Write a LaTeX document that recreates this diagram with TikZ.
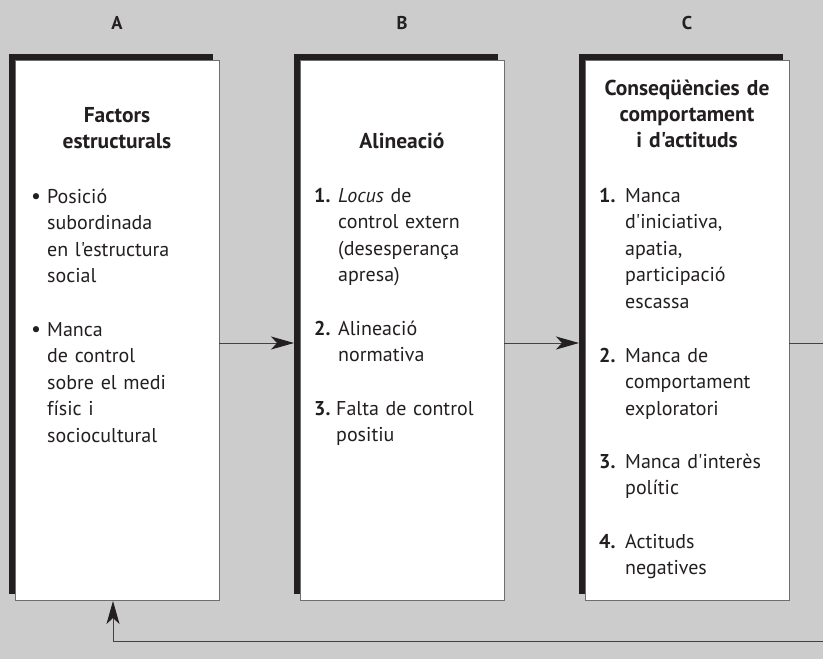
\documentclass[tikz,border=0pt]{standalone}
\usepackage{fontspec}
\setmainfont{PT Sans}[Ligatures=TeXOff]
\usetikzlibrary{arrows.meta,shadows}
\definecolor{bg}{HTML}{CCCCCC}
\definecolor{ink}{HTML}{231F20}
\definecolor{edge}{HTML}{6E6E6E}
\begin{document}
\begin{tikzpicture}[x=1pt,y=-1pt,
  panel/.style={fill=white, draw=edge, line width=0.8pt, inner sep=0pt,
    minimum width=204pt, minimum height=540pt, anchor=north west,
    general shadow={fill=ink, draw=none, shadow xshift=-6pt, shadow yshift=6pt}},
  txt/.style={text=ink, inner sep=0pt, font=\fontsize{20}{26.5}\selectfont},
  title/.style={txt, font=\fontsize{21.5}{26}\selectfont\bfseries, align=center, text width=200pt, anchor=base},
  item/.style={txt, align=left, text width=175pt, anchor=base west},
  num/.style={txt, font=\fontsize{20}{26.5}\selectfont\bfseries, anchor=base west},
  bul/.style={txt, font=\fontsize{22}{26.5}\selectfont, anchor=base},
  head/.style={txt, font=\fontsize{18.5}{20}\selectfont\bfseries, anchor=base},
  conn/.style={draw=ink!85, line width=0.9pt},
  tip/.style={-{Stealth[length=23pt,width=13pt,inset=6pt,color=ink]}}
]
\useasboundingbox[fill=bg] (0,0) rectangle (823,659);
\clip (0,0) rectangle (823,659);

% column heads
\node[head] (hA) at (117,29) {A};
\node[head] (hB) at (402,29) {B};
\node[head] (hC) at (687,29) {C};

% panels
\node[panel] (A) at (15,60) {};
\node[panel] (B) at (300,60) {};
\node[panel] (C) at (585,60) {};

% Box A
\node[title] (At) at (117,122) {Factors\\estructurals};
\node[bul] (Ab1) at (36,203) {•};
\node[item] (A1) at (47,203) {Posició\\subordinada\\en l'estructura\\social};
\node[bul] (Ab2) at (36,336) {•};
\node[item] (A2) at (47,336) {Manca\\de control\\sobre el medi\\físic i\\sociocultural};

% Box B
\node[title] (Bt) at (402,148) {Alineació};
\node[num] (Bn1) at (314,202) {1.};
\node[item] (B1) at (338,202) {\textit{Locus} de\\control extern\\(desesperança\\apresa)};
\node[num] (Bn2) at (314,335) {2.};
\node[item] (B2) at (338,335) {Alineació\\normativa};
\node[num] (Bn3) at (314,415) {3.};
\node[item] (B3) at (336,415) {Falta de control\\positiu};

% Box C
\node[title] (Ct) at (687,95) {Conseqüències de\\comportament\\i d'actituds};
\node[num] (Cn1) at (599,202) {1.};
\node[item] (C1) at (625,202) {Manca\\d'iniciativa,\\apatia,\\participació\\escassa};
\node[num] (Cn2) at (599,362) {2.};
\node[item] (C2) at (625,362) {Manca de\\comportament\\exploratori};
\node[num] (Cn3) at (599,468) {3.};
\node[item] (C3) at (625,468) {Manca d'interès\\polític};
\node[num] (Cn4) at (599,548) {4.};
\node[item] (C4) at (625,548) {Actituds\\negatives};

% connectors
\coordinate (aR) at (219,343);
\coordinate (bL) at (294,343);
\coordinate (bR) at (504,343);
\coordinate (cL) at (579,343);
\coordinate (cR) at (789,343);
\coordinate (e1) at (824,343);
\coordinate (e2) at (824,641);
\coordinate (f1) at (113,641);
\coordinate (f2) at (113,601);
\draw[conn,tip] (aR) -- (bL);
\draw[conn,tip] (bR) -- (cL);
\draw[conn,tip] (cR) -- (e1) -- (e2) -- (f1) -- (f2);
\end{tikzpicture}
\end{document}
